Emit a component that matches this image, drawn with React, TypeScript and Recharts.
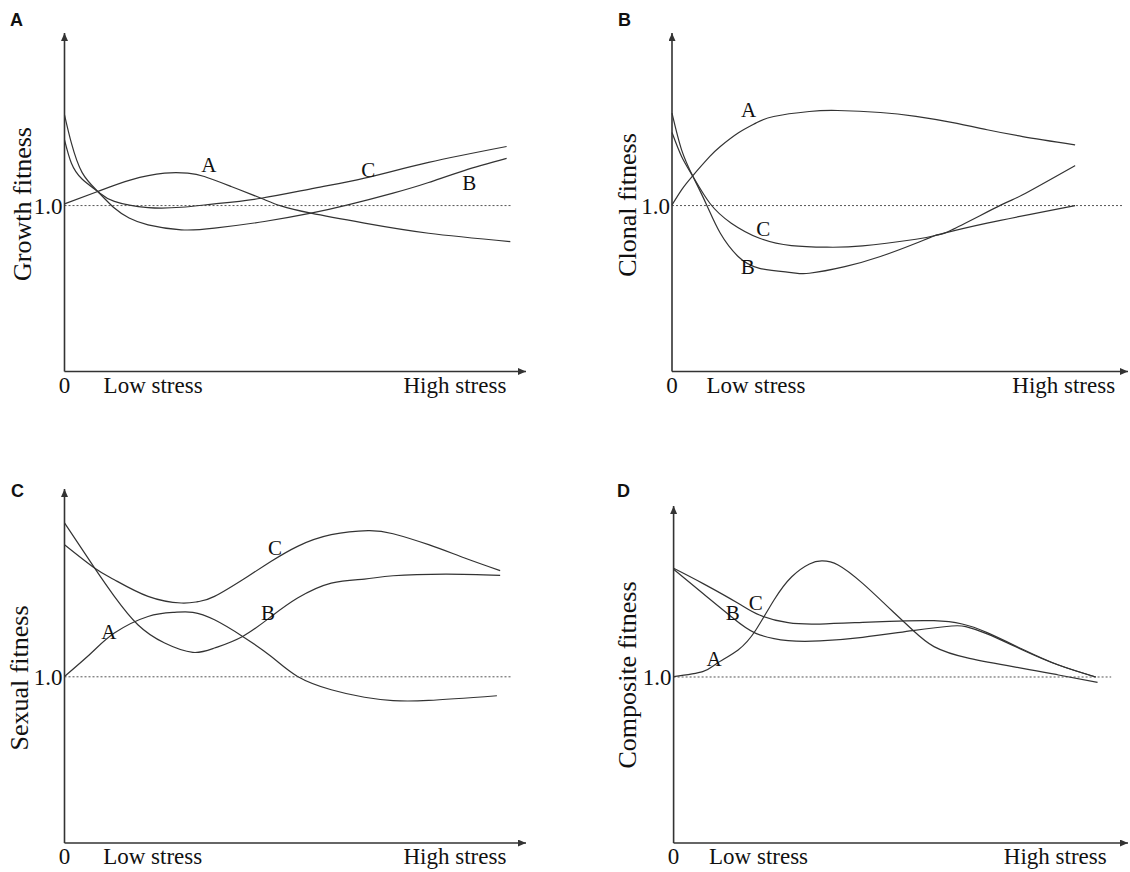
import { LineChart, Line, XAxis, YAxis, ReferenceLine, ReferenceDot } from 'recharts'

const FONT = '"Liberation Serif", "Times New Roman", serif'
const INK = '#333'

const tickLabels = ['0', 'Low stress', 'High stress']
const yTicks = [1]

// panel A: growth fitness
const growthTicks = [0, 19.2, 84.6]
const growthAX = [0, 7.2, 14.4, 21.7, 26.7, 30.3, 36.1, 42.6, 46.9, 53.4, 65, 78.9, 96.6]
const growthAY = [1.01, 1.085, 1.155, 1.195, 1.195, 1.175, 1.115, 1.044, 0.998, 0.954, 0.894, 0.833, 0.783]
const growthBX = [0, 1.5, 3.8, 7.2, 10.8, 14, 18.1, 25.3, 32.5, 43.3, 53.4, 61.4, 71.2, 78.9, 86.6, 95.8]
const growthBY = [1.547, 1.376, 1.2, 1.085, 0.985, 0.925, 0.884, 0.854, 0.864, 0.904, 0.954, 1.004, 1.075, 1.139, 1.211, 1.284]
const growthCX = [0, 1.5, 3.8, 7.2, 10.8, 18.1, 25.3, 32.5, 42.6, 54.2, 65, 78.9, 95.8]
const growthCY = [1.396, 1.255, 1.16, 1.085, 1.025, 0.988, 0.99, 1.01, 1.044, 1.105, 1.165, 1.26, 1.356]

// panel B: clonal fitness
const clonalTicks = [0, 18.4, 85.9]
const clonalAX = [0, 2.1, 4.4, 8.3, 10.6, 14.5, 18.4, 22.3, 30.1, 36.3, 45.7, 53.5, 61.3, 69.1, 76.9, 88.4]
const clonalAY = [1.004, 1.095, 1.175, 1.296, 1.356, 1.437, 1.497, 1.537, 1.567, 1.573, 1.561, 1.537, 1.501, 1.457, 1.416, 1.366]
const clonalBX = [0, 2.1, 4.6, 7.6, 10.6, 14.5, 19.2, 26.2, 30.1, 37.9, 45.7, 53.5, 58.2, 61.3, 72.2, 76.9, 88.4]
const clonalBY = [1.557, 1.336, 1.175, 1.004, 0.833, 0.693, 0.622, 0.596, 0.592, 0.632, 0.693, 0.773, 0.823, 0.853, 1.004, 1.065, 1.241]
const clonalCX = [0, 2.1, 4.6, 8.3, 13, 19.2, 26.2, 34, 41.8, 53.5, 58.2, 69.1, 88.4]
const clonalCY = [1.44, 1.296, 1.175, 1.014, 0.894, 0.803, 0.759, 0.749, 0.757, 0.797, 0.823, 0.894, 1.0]

// panel C: sexual fitness
const sexualTicks = [0, 19.1, 84.6]
const sexualAX = [0, 5.8, 10.8, 18.1, 23.8, 27.8, 32.5, 38.6, 44.8, 50.5, 57.8, 65, 71.2, 78.9, 93.7]
const sexualAY = [1.002, 1.143, 1.263, 1.363, 1.388, 1.388, 1.343, 1.243, 1.122, 1.002, 0.922, 0.877, 0.857, 0.858, 0.886]
const sexualBX = [0, 6.5, 10.8, 15.9, 21.7, 27.8, 32.5, 38.6, 44.8, 50.5, 57.8, 65, 71.2, 82.8, 94.4]
const sexualBY = [1.926, 1.655, 1.484, 1.313, 1.203, 1.147, 1.173, 1.243, 1.363, 1.474, 1.564, 1.588, 1.608, 1.618, 1.61]
const sexualCX = [0, 6.5, 10.8, 18.1, 25.3, 28.9, 32.5, 39.7, 44.8, 50.5, 57.8, 65.8, 71.2, 78.9, 86.7, 94.4]
const sexualCY = [1.795, 1.655, 1.584, 1.484, 1.444, 1.452, 1.484, 1.604, 1.695, 1.785, 1.855, 1.88, 1.861, 1.795, 1.715, 1.639]

// panel D: composite fitness
const compTicks = [0, 18.7, 84]
const compAX = [0, 6.4, 9.5, 14.2, 18.1, 22.1, 26, 29.9, 32.6, 36.2, 41.6, 47.1, 52.6, 57.3, 65.1, 76.8, 84.7, 93.3]
const compAY = [1.002, 1.032, 1.082, 1.163, 1.283, 1.464, 1.604, 1.681, 1.699, 1.675, 1.564, 1.424, 1.283, 1.183, 1.112, 1.052, 1.012, 0.968]
const compBX = [0, 6.4, 12.7, 18.1, 25.2, 32.2, 41.6, 52.6, 61.2, 64.3, 69, 76.8, 84.7, 92.9]
const compBY = [1.649, 1.504, 1.363, 1.263, 1.219, 1.217, 1.239, 1.279, 1.307, 1.303, 1.26, 1.163, 1.072, 1.0]
const compCX = [0, 6.4, 14.2, 18.9, 25.2, 32.2, 41.6, 49.5, 57.3, 63.5, 69, 76.8, 84.7, 92.9]
const compCY = [1.655, 1.564, 1.444, 1.373, 1.327, 1.319, 1.329, 1.337, 1.339, 1.319, 1.267, 1.167, 1.072, 1.0]

const pts = (xs: number[], ys: number[]) => xs.map((x, i) => ({ x, y: ys[i] }))

type PanelProps = {
  left: number
  top: number
  width: number
  height: number
  marginTop: number
  marginRight: number
  yWidth: number
  xHeight: number
  yMax: number
  ticks: number[]
  title: string
  titleX: number
  titleY: number
  dotEnd: number
  curves: { x: number[]; y: number[] }[]
  labels: { t: string; x: number; y: number }[]
}

const panels: PanelProps[] = [
  {
    left: 0, top: 0, width: 560, height: 420, marginTop: 33, marginRight: 34, yWidth: 64.5, xHeight: 48.5, yMax: 2.04,
    ticks: growthTicks, title: 'Growth fitness', titleX: 22, titleY: 204, dotEnd: 97,
    curves: [{ x: growthAX, y: growthAY }, { x: growthBX, y: growthBY }, { x: growthCX, y: growthCY }],
    labels: [{ t: 'A', x: 31.3, y: 1.245 }, { t: 'C', x: 65.8, y: 1.215 }, { t: 'B', x: 87.7, y: 1.137 }],
  },
  {
    left: 560, top: 0, width: 570, height: 420, marginTop: 33, marginRight: 2, yWidth: 112, xHeight: 48.5, yMax: 2.04,
    ticks: clonalTicks, title: 'Clonal fitness', titleX: 67, titleY: 205, dotEnd: 99,
    curves: [{ x: clonalAX, y: clonalAY }, { x: clonalBX, y: clonalBY }, { x: clonalCX, y: clonalCY }],
    labels: [{ t: 'A', x: 16.8, y: 1.577 }, { t: 'C', x: 20, y: 0.86 }, { t: 'B', x: 16.6, y: 0.63 }],
  },
  {
    left: 0, top: 420, width: 560, height: 452, marginTop: 69, marginRight: 34, yWidth: 64.5, xHeight: 29, yMax: 2.13,
    ticks: sexualTicks, title: 'Sexual fitness', titleX: 19, titleY: 258, dotEnd: 97,
    curves: [{ x: sexualAX, y: sexualAY }, { x: sexualBX, y: sexualBY }, { x: sexualCX, y: sexualCY }],
    labels: [{ t: 'C', x: 45.6, y: 1.777 }, { t: 'B', x: 44.1, y: 1.386 }, { t: 'A', x: 9.6, y: 1.271 }],
  },
  {
    left: 560, top: 420, width: 570, height: 452, marginTop: 86, marginRight: 2, yWidth: 113.6, xHeight: 29, yMax: 2.03,
    ticks: compTicks, title: 'Composite fitness', titleX: 67, titleY: 255, dotEnd: 96.3,
    curves: [{ x: compAX, y: compAY }, { x: compBX, y: compBY }, { x: compCX, y: compCY }],
    labels: [{ t: 'A', x: 8.9, y: 1.114 }, { t: 'B', x: 13, y: 1.386 }, { t: 'C', x: 18.1, y: 1.446 }],
  },
]

const letters = [
  { t: 'A', x: 10, y: 26 },
  { t: 'B', x: 618, y: 26 },
  { t: 'C', x: 11, y: 497 },
  { t: 'D', x: 617, y: 497 },
]

const Panel = (p: PanelProps) => (
  <div style={{ position: 'absolute', left: p.left, top: p.top }}>
    <LineChart width={p.width} height={p.height} margin={{ top: p.marginTop, right: p.marginRight, bottom: 0, left: 0 }}>
      <XAxis
        type="number"
        dataKey="x"
        domain={[0, 100]}
        ticks={p.ticks}
        interval={0}
        tickFormatter={(_v: number, i: number) => tickLabels[i]}
        tickLine={false}
        tickSize={0}
        tickMargin={5}
        height={p.xHeight}
        axisLine={{ stroke: INK, strokeWidth: 1.6, markerEnd: 'url(#arrowHead)' } as any}
        tick={{ fontSize: 23, fill: '#111', fontFamily: FONT }}
      />
      <YAxis
        type="number"
        domain={[0, p.yMax]}
        ticks={yTicks}
        interval={0}
        tickFormatter={(v: number) => v.toFixed(1)}
        tickLine={false}
        tickSize={0}
        tickMargin={2}
        width={p.yWidth}
        axisLine={{ stroke: INK, strokeWidth: 1.6, markerStart: 'url(#arrowHead)' } as any}
        tick={{ fontSize: 23, fill: '#111', fontFamily: FONT }}
        label={{
          content: () => (
            <text
              x={p.titleX}
              y={p.titleY}
              transform={`rotate(-90 ${p.titleX} ${p.titleY})`}
              textAnchor="middle"
              dominantBaseline="central"
              fontSize={26}
              fontFamily={FONT}
              fill="#111"
            >
              {p.title}
            </text>
          ),
        }}
      />
      <ReferenceLine
        segment={[{ x: 0, y: 1 }, { x: p.dotEnd, y: 1 }]}
        stroke="#555"
        strokeWidth={1}
        strokeDasharray="2 2"
      />
      {p.curves.map((c, i) => (
        <Line
          key={i}
          data={pts(c.x, c.y)}
          dataKey="y"
          type="natural"
          stroke={INK}
          strokeWidth={1.2}
          dot={false}
          activeDot={false}
          isAnimationActive={false}
        />
      ))}
      {p.labels.map((l) => (
        <ReferenceDot
          key={l.t}
          x={l.x}
          y={l.y}
          r={1}
          fill="none"
          stroke="none"
          label={{ value: l.t, position: 'center', fontSize: 21, fontFamily: FONT, fill: '#111' }}
        />
      ))}
    </LineChart>
  </div>
)

export default function App() {
  return (
    <div style={{ position: 'absolute', left: 0, top: 0, width: 1130, height: 872, background: '#fff' }}>
      <svg width={1130} height={872} style={{ position: 'absolute', left: 0, top: 0 }}>
        <defs>
          <marker
            id="arrowHead"
            viewBox="0 0 8 7"
            refX={8}
            refY={3.5}
            markerWidth={8}
            markerHeight={7}
            markerUnits="userSpaceOnUse"
            orient="auto-start-reverse"
          >
            <path d="M0,0 L8,3.5 L0,7 z" fill={INK} />
          </marker>
        </defs>
        {letters.map((l) => (
          <text key={l.t} x={l.x} y={l.y} fontSize={18} fontWeight="bold" fontFamily='"Liberation Sans", Arial, sans-serif' fill="#111">
            {l.t}
          </text>
        ))}
      </svg>
      {panels.map((p, i) => (
        <Panel key={i} {...p} />
      ))}
    </div>
  )
}
